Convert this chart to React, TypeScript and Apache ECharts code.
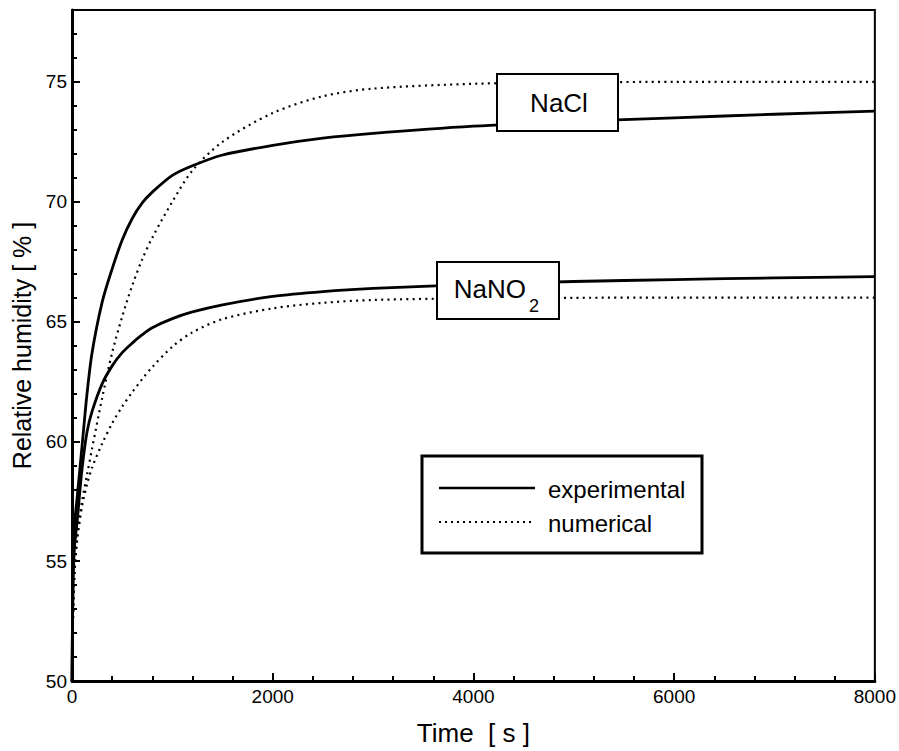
import React, { useEffect, useRef } from 'react';
import * as echarts from 'echarts';

// Time samples [s]
const timeS = [0, 10, 25, 50, 100, 150, 200, 300, 400, 500, 600, 700, 800, 1000, 1200, 1500, 2000, 2500, 3000, 4000, 5000, 6000, 7000, 8000];
// Relative humidity [%]
const naclExperimental = [50, 54.5, 56.5, 57.6, 59.8, 62.0, 63.7, 65.8, 67.2, 68.4, 69.3, 69.95, 70.4, 71.1, 71.5, 71.95, 72.35, 72.65, 72.85, 73.15, 73.35, 73.5, 73.65, 73.78];
const naclNumerical = [50, 52.5, 54.5, 56.0, 57.5, 58.6, 59.7, 61.8, 63.7, 65.2, 66.5, 67.6, 68.5, 70.0, 71.3, 72.5, 73.7, 74.4, 74.72, 74.92, 74.98, 75, 75, 75];
const nano2Experimental = [50, 54, 55.6, 56.6, 58.85, 60.4, 61.25, 62.4, 63.15, 63.7, 64.1, 64.45, 64.74, 65.12, 65.4, 65.7, 66.05, 66.25, 66.38, 66.55, 66.67, 66.75, 66.82, 66.87];
const nano2Numerical = [50, 52.5, 54.5, 55.8, 57.3, 58.2, 58.9, 59.9, 60.75, 61.45, 62.05, 62.6, 63.1, 63.95, 64.55, 65.1, 65.55, 65.78, 65.9, 65.97, 65.99, 66, 66, 66];

const xTicks = { min: 0, max: 8000, interval: 2000 };
const yTicks = { min: 50, max: 78, interval: 5 };

const FONT = '"Liberation Sans", Arial, sans-serif';

const pair = (ys: number[]) => timeS.map((t, i) => [t, ys[i]]);

export default function App() {
  const ref = useRef<HTMLDivElement>(null);
  useEffect(() => {
    document.body.style.margin = '0';
    document.documentElement.style.overflow = 'hidden';
    const chart = echarts.init(ref.current!, null, { renderer: 'svg' });
    const solid = { type: 'solid' as const, width: 2.8, color: '#000' };
    const dotted = { type: [2, 4.3] as any, width: 2.2, color: '#000', cap: 'butt' as const };
    const mkSeries = (name: string, ys: number[], style: any) => ({
      name,
      type: 'line',
      data: pair(ys),
      showSymbol: false,
      symbol: 'none',
      smooth: 0.3,
      lineStyle: style,
      z: 2,
    });
    chart.setOption({
      animation: false,
      backgroundColor: '#fff',
      textStyle: { fontFamily: FONT, color: '#000' },
      grid: { left: 72, right: 22, top: 10, bottom: 64, show: true, borderColor: '#000', borderWidth: 2, backgroundColor: 'transparent' },
      xAxis: {
        type: 'value', ...xTicks,
        name: 'Time  [ s ]', nameLocation: 'middle', nameGap: 39,
        nameTextStyle: { fontSize: 26, color: '#000', fontFamily: FONT },
        axisLine: { show: true, lineStyle: { color: '#000', width: 3 } },
        axisTick: { show: true, inside: true, length: 8, lineStyle: { color: '#000', width: 2 } },
        minorTick: { show: true, splitNumber: 5, length: 5, lineStyle: { color: '#000', width: 2 } },
        axisLabel: { fontSize: 19, color: '#000', margin: 6, fontFamily: FONT, formatter: (v: number) => String(v) },
        splitLine: { show: false },
      },
      yAxis: [
        {
          type: 'value', ...yTicks,
          name: 'Relative humidity [ % ]', nameLocation: 'middle', nameGap: 36, nameRotate: 90,
          nameTextStyle: { fontSize: 25, color: '#000', fontFamily: FONT },
          axisLine: { show: true, lineStyle: { color: '#000', width: 3 } },
          axisTick: { show: true, inside: true, length: 8, lineStyle: { color: '#000', width: 2 } },
          axisLabel: {
            fontSize: 19, color: '#000', margin: 5, fontFamily: FONT,
            formatter: (v: number) => (v % 5 === 0 ? String(v) : ''),
          },
          splitLine: { show: false },
        },
        {
          type: 'value', min: 50, max: 78, interval: 1, position: 'left',
          axisLine: { show: false },
          axisTick: { show: true, inside: true, length: 5, lineStyle: { color: '#000', width: 2 } },
          axisLabel: { show: false },
          splitLine: { show: false },
        },
      ],
      series: [
        mkSeries('NaCl experimental', naclExperimental, solid),
        mkSeries('NaCl numerical', naclNumerical, dotted),
        mkSeries('NaNO2 experimental', nano2Experimental, solid),
        mkSeries('NaNO2 numerical', nano2Numerical, dotted),
      ],
      graphic: [
        { type: 'rect', z: 100, shape: { x: 497, y: 74, width: 121, height: 57 }, style: { fill: '#fff', stroke: '#000', lineWidth: 2 } },
        { type: 'text', z: 101, x: 559, y: 103, style: { text: 'NaCl', font: `26px ${FONT}`, fill: '#000', align: 'center', verticalAlign: 'middle' } },
        { type: 'rect', z: 100, shape: { x: 437, y: 262, width: 122, height: 57 }, style: { fill: '#fff', stroke: '#000', lineWidth: 2 } },
        { type: 'text', z: 101, x: 526, y: 289, style: { text: 'NaNO', font: `26px ${FONT}`, fill: '#000', align: 'right', verticalAlign: 'middle' } },
        { type: 'text', z: 101, x: 529, y: 306, style: { text: '2', font: `18px ${FONT}`, fill: '#000', align: 'left', verticalAlign: 'middle' } },
        { type: 'rect', z: 100, shape: { x: 422, y: 456, width: 280, height: 97 }, style: { fill: '#fff', stroke: '#000', lineWidth: 3 } },
        { type: 'line', z: 101, shape: { x1: 439, y1: 488, x2: 535, y2: 488 }, style: { stroke: '#000', lineWidth: 2.5 } },
        { type: 'line', z: 101, shape: { x1: 439, y1: 522, x2: 533, y2: 522 }, style: { stroke: '#000', lineWidth: 2, lineDash: [2, 4] } },
        { type: 'text', z: 101, x: 548, y: 489, style: { text: 'experimental', font: `24px ${FONT}`, fill: '#000', align: 'left', verticalAlign: 'middle' } },
        { type: 'text', z: 101, x: 548, y: 523, style: { text: 'numerical', font: `24px ${FONT}`, fill: '#000', align: 'left', verticalAlign: 'middle' } },
      ],
    });
    return () => chart.dispose();
  }, []);
  return <div ref={ref} style={{ width: 899, height: 751 }} />;
}
